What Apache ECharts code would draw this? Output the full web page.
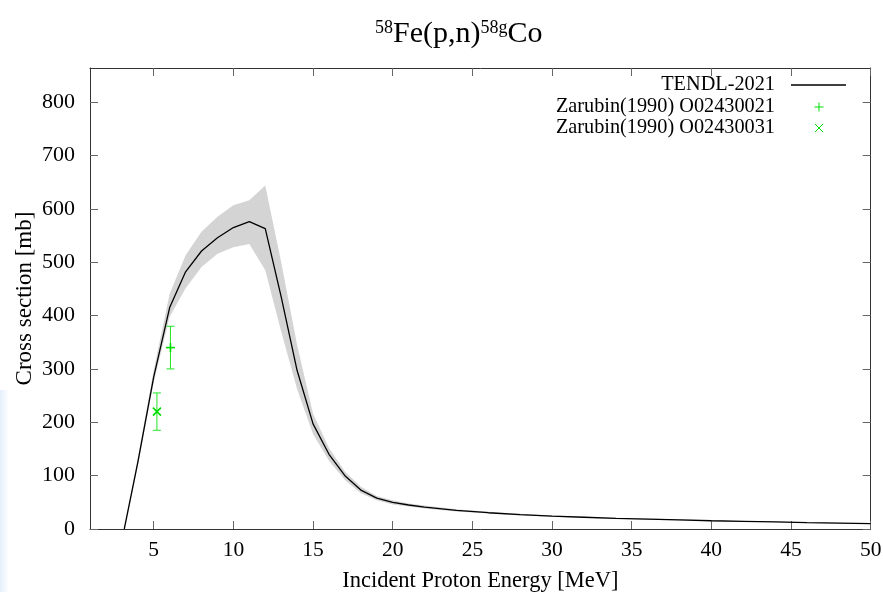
<!DOCTYPE html>
<html>
<head>
<meta charset="utf-8">
<script src="https://cdn.jsdelivr.net/npm/echarts@6/dist/echarts.min.js"></script>
<style>
  html, body { margin: 0; padding: 0; background: #fff; }
  #chart { width: 883px; height: 592px; }
</style>
</head>
<body>
<div id="chart"></div>
<script>
// Incident proton energy grid [MeV] of the TENDL-2021 evaluation
const energy = [3.15, 4, 5, 6, 7, 8, 9, 10, 11, 12, 13, 14, 15, 16, 17, 18, 19, 20,
                21, 22, 24, 26, 28, 30, 32, 34, 36, 38, 40, 42, 44, 46, 48, 50];
// TENDL-2021 cross section [mb]
const tendl = [0, 125, 285, 415, 482, 521, 546, 565, 576, 563, 435, 297, 197, 140, 100, 73, 58, 50,
               45, 41, 35, 30.5, 27, 24, 22, 20, 18.5, 17, 15.5, 14.3, 13.2, 12, 11, 10];
// Lower / upper edge of the TENDL uncertainty band [mb]
const tendlLow = [0, 118, 275, 398, 451, 491, 516, 528, 534, 485, 370, 262, 178, 128, 92, 67, 54, 46,
                  42, 38.5, 33, 29, 25.5, 23, 21, 19, 17.5, 16, 14.7, 13.5, 12.5, 11.3, 10.4, 9.5];
const tendlHigh = [0, 132, 298, 441, 513, 557, 585, 607, 616, 644, 500, 345, 216, 152, 108, 79, 62, 54,
                   48, 44, 37, 32.5, 28.5, 25.3, 23, 21, 19.5, 18, 16.4, 15.1, 13.9, 12.7, 11.6, 10.5];
// Zarubin (1990) measurements: [energy, cross section, lower error, upper error]
const zarubin21 = [[6.05, 340, 300, 380]];
const zarubin31 = [[5.2, 220, 185, 255]];
// Tick positions
const xTicks = [5, 10, 15, 20, 25, 30, 35, 40, 45, 50];
const yTicks = [0, 100, 200, 300, 400, 500, 600, 700, 800];

const FONT = '"Liberation Serif", "Times New Roman", serif';
const GREEN = '#00dd00';

const chart = echarts.init(document.getElementById('chart'), null, { renderer: 'canvas' });

function bandItem(params, api) {
  if (params.dataIndex !== 0) return null;
  const pts = [];
  for (let i = 0; i < energy.length; i++) pts.push(api.coord([energy[i], tendlHigh[i]]));
  for (let i = energy.length - 1; i >= 0; i--) pts.push(api.coord([energy[i], tendlLow[i]]));
  return { type: 'polygon', shape: { points: pts }, style: { fill: '#d4d4d4', stroke: null } };
}

function errItem(kind) {
  return function (params, api) {
    const x = api.value(0);
    const c = api.coord([x, api.value(1)]);
    const lo = api.coord([x, api.value(2)]);
    const hi = api.coord([x, api.value(3)]);
    const bar = { stroke: '#22e622', lineWidth: 1 };
    const mk = { stroke: GREEN, lineWidth: 1.6 };
    const cap = 4, r = 4.5;
    const children = [
      { type: 'line', shape: { x1: lo[0], y1: lo[1], x2: hi[0], y2: hi[1] }, style: bar },
      { type: 'line', shape: { x1: lo[0] - cap, y1: lo[1], x2: lo[0] + cap, y2: lo[1] }, style: bar },
      { type: 'line', shape: { x1: hi[0] - cap, y1: hi[1], x2: hi[0] + cap, y2: hi[1] }, style: bar }
    ];
    if (kind === 'plus') {
      children.push({ type: 'line', shape: { x1: c[0] - r, y1: c[1], x2: c[0] + r, y2: c[1] }, style: mk });
      children.push({ type: 'line', shape: { x1: c[0], y1: c[1] - r, x2: c[0], y2: c[1] + r }, style: mk });
    } else {
      const d = 4;
      children.push({ type: 'line', shape: { x1: c[0] - d, y1: c[1] - d, x2: c[0] + d, y2: c[1] + d }, style: mk });
      children.push({ type: 'line', shape: { x1: c[0] - d, y1: c[1] + d, x2: c[0] + d, y2: c[1] - d }, style: mk });
    }
    return { type: 'group', children: children };
  };
}

const frameLine = { show: true, onZero: false, lineStyle: { color: '#333', width: 1 } };
const tickStyle = { color: '#666', width: 1 };

// Legend drawn gnuplot-style: right-aligned labels with samples to their right
const legendX = 775, sampleX = 819;
const legendRows = [85, 107, 128];
const LEGEND_FONT = '20.3px ' + FONT;
const graphics = [
  {
    type: 'rect', left: 0, top: 390, z: -10,
    shape: { width: 9, height: 202 },
    style: { fill: new echarts.graphic.LinearGradient(0, 0, 1, 0, [
      { offset: 0, color: 'rgba(222,235,252,0.8)' },
      { offset: 1, color: 'rgba(222,235,252,0)' }
    ]) }
  },
  { type: 'text', x: legendX, y: legendRows[0], z: 100,
    style: { text: 'TENDL-2021', font: LEGEND_FONT, fill: '#000', align: 'right', verticalAlign: 'middle' } },
  { type: 'text', x: legendX, y: legendRows[1], z: 100,
    style: { text: 'Zarubin(1990) O02430021', font: LEGEND_FONT, fill: '#000', align: 'right', verticalAlign: 'middle' } },
  { type: 'text', x: legendX, y: legendRows[2], z: 100,
    style: { text: 'Zarubin(1990) O02430031', font: LEGEND_FONT, fill: '#000', align: 'right', verticalAlign: 'middle' } },
  { type: 'line', z: 100, shape: { x1: 791, y1: legendRows[0], x2: 846, y2: legendRows[0] },
    style: { stroke: '#000', lineWidth: 1.3 } },
  { type: 'line', z: 100, shape: { x1: sampleX - 4.5, y1: legendRows[1], x2: sampleX + 4.5, y2: legendRows[1] },
    style: { stroke: GREEN, lineWidth: 1 } },
  { type: 'line', z: 100, shape: { x1: sampleX, y1: legendRows[1] - 4.5, x2: sampleX, y2: legendRows[1] + 4.5 },
    style: { stroke: GREEN, lineWidth: 1 } },
  { type: 'line', z: 100, shape: { x1: sampleX - 4, y1: legendRows[2] - 4, x2: sampleX + 4, y2: legendRows[2] + 4 },
    style: { stroke: GREEN, lineWidth: 1 } },
  { type: 'line', z: 100, shape: { x1: sampleX - 4, y1: legendRows[2] + 4, x2: sampleX + 4, y2: legendRows[2] - 4 },
    style: { stroke: GREEN, lineWidth: 1 } }
];

const option = {
  animation: false,
  backgroundColor: '#fff',
  title: {
    text: '{sup|58}{main|Fe(p,n)}{sup|58g}{main|Co}',
    left: 375, top: 19, padding: 0,
    textStyle: {
      fontWeight: 'normal',
      rich: {
        main: { fontFamily: FONT, fontSize: 30, lineHeight: 30, fontWeight: 'normal', color: '#000' },
        sup: { fontFamily: FONT, fontSize: 18, lineHeight: 6, verticalAlign: 'top', fontWeight: 'normal', color: '#000' }
      }
    }
  },
  grid: { left: 90, right: 12.3, top: 68, bottom: 63, containLabel: false, outerBoundsMode: 'none' },
  xAxis: [
    {
      type: 'value', position: 'bottom', min: 1, max: 50,
      axisLine: frameLine,
      axisTick: { show: true, inside: true, length: 8, customValues: xTicks, lineStyle: tickStyle },
      axisLabel: { customValues: xTicks, fontFamily: FONT, fontSize: 21.5, color: '#000', margin: 10 },
      splitLine: { show: false },
      name: 'Incident Proton Energy [MeV]', nameLocation: 'middle', nameGap: 41, nameMoveOverlap: false,
      nameTextStyle: { fontFamily: FONT, fontSize: 22.5, color: '#000' }
    },
    {
      type: 'value', position: 'top', min: 1, max: 50,
      axisLine: frameLine,
      axisTick: { show: true, inside: true, length: 8, customValues: xTicks, lineStyle: tickStyle },
      axisLabel: { show: false },
      splitLine: { show: false }
    }
  ],
  yAxis: [
    {
      type: 'value', position: 'left', min: 0, max: 864,
      axisLine: frameLine,
      axisTick: { show: true, inside: true, length: 8, customValues: yTicks, lineStyle: tickStyle },
      axisLabel: { customValues: yTicks, fontFamily: FONT, fontSize: 22, color: '#000', margin: 15 },
      splitLine: { show: false },
      name: 'Cross section [mb]', nameLocation: 'middle', nameGap: 54, nameMoveOverlap: false,
      nameTextStyle: { fontFamily: FONT, fontSize: 23, color: '#000' }
    },
    {
      type: 'value', position: 'right', min: 0, max: 864,
      axisLine: frameLine,
      axisTick: { show: true, inside: true, length: 8, customValues: yTicks, lineStyle: tickStyle },
      axisLabel: { show: false },
      splitLine: { show: false }
    }
  ],
  series: [
    {
      name: 'TENDL-2021 uncertainty', type: 'custom', renderItem: bandItem,
      data: energy.map((e, i) => [e, tendlLow[i], tendlHigh[i]]),
      encode: { x: 0, y: [1, 2] }, z: 1, silent: true
    },
    {
      name: 'TENDL-2021', type: 'line',
      data: energy.map((e, i) => [e, tendl[i]]),
      showSymbol: false, symbol: 'none',
      lineStyle: { color: '#000', width: 1.3 }, z: 3
    },
    {
      name: 'Zarubin(1990) O02430021', type: 'custom', renderItem: errItem('plus'),
      data: zarubin21, encode: { x: 0, y: [1, 2, 3] }, z: 4
    },
    {
      name: 'Zarubin(1990) O02430031', type: 'custom', renderItem: errItem('cross'),
      data: zarubin31, encode: { x: 0, y: [1, 2, 3] }, z: 4
    }
  ],
  graphic: graphics
};

chart.setOption(option);
</script>
</body>
</html>
